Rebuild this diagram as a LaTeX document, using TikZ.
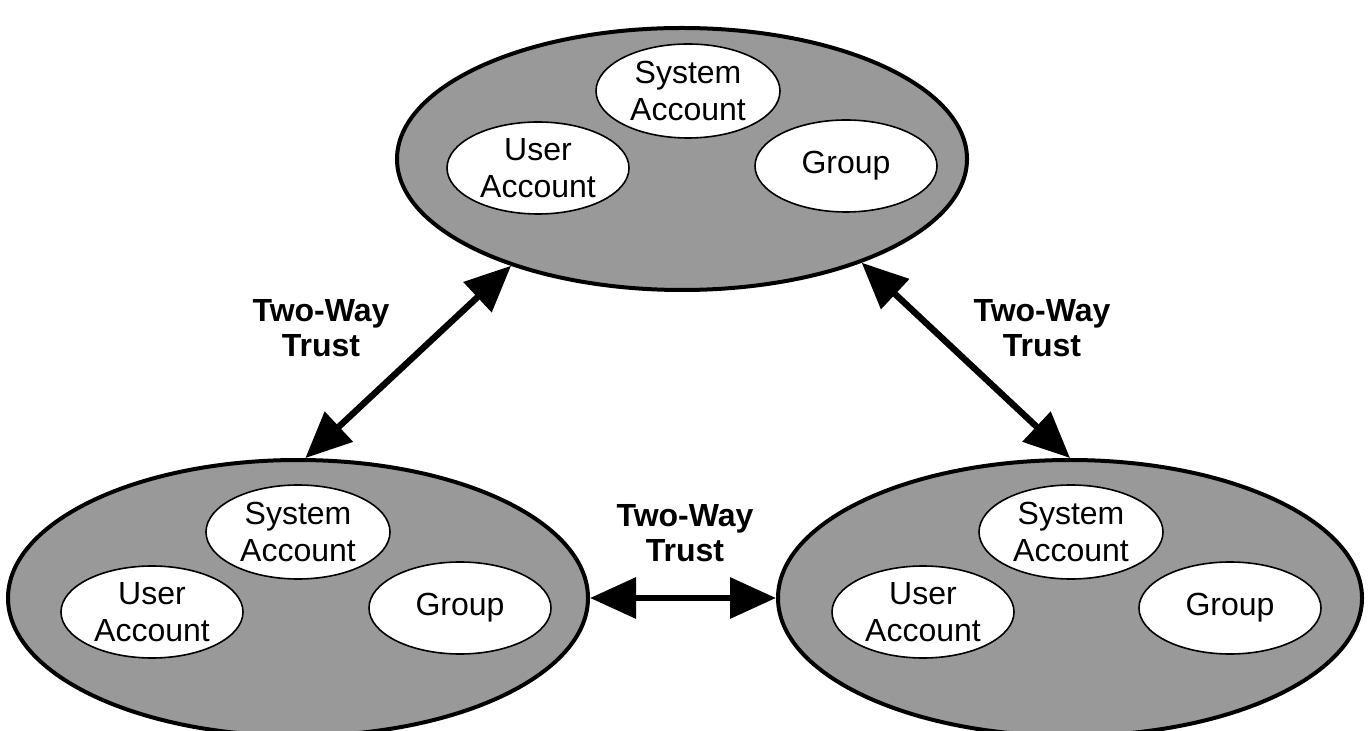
\documentclass[tikz,border=0pt]{standalone}
\usepackage{fontspec}
\setmainfont{Liberation Sans}
\usetikzlibrary{shapes.geometric,arrows.meta}
\definecolor{domaingray}{RGB}{153,153,153}
\begin{document}
\begin{tikzpicture}[x=0.5pt,y=-0.5pt,
  domainell/.style={ellipse,draw=black,line width=2pt,fill=domaingray,inner sep=0pt},
  memberell/.style={ellipse,draw=black,line width=0.8pt,fill=white,inner sep=0pt,
    minimum width=91pt,minimum height=46pt},
  membertext/.style={align=center,inner sep=0pt,font=\fontsize{16}{18.5}\selectfont},
  trustlabel/.style={align=center,inner sep=0pt,font=\fontsize{16}{17.5}\selectfont\bfseries},
  trustarrow/.style={line width=3.2pt,{Triangle[length=23pt,width=20pt]}-{Triangle[length=23pt,width=20pt]}}]
\fill[white] (0,0) rectangle (1369,731);
\useasboundingbox (0,0) rectangle (1369,731);
\begin{scope}
\clip (0,0) rectangle (1369,731);

% top domain
\node[domainell,minimum width=285pt,minimum height=131pt] (top) at (682,159) {};
\node[memberell,minimum width=92pt,minimum height=47pt] (top-sys) at (688,91) {};
\node[membertext] (top-sys-t) at (top-sys) {System\\Account};
\node[memberell] (top-usr) at (538,168) {};
\node[membertext] (top-usr-t) at (top-usr) {User\\Account};
\node[memberell] (top-grp) at (846,166) {};
\node[membertext] (top-grp-t) at (top-grp) {Group};

% bottom-left domain
\node[domainell,minimum width=290pt,minimum height=138pt] (bl) at (298,598) {};
\node[memberell,minimum width=92pt,minimum height=47pt] (bl-sys) at (298,532) {};
\node[membertext] (bl-sys-t) at (bl-sys) {System\\Account};
\node[memberell] (bl-usr) at (152,612) {};
\node[membertext] (bl-usr-t) at (bl-usr) {User\\Account};
\node[memberell] (bl-grp) at (460,608) {};
\node[membertext] (bl-grp-t) at (bl-grp) {Group};

% bottom-right domain
\node[domainell,minimum width=292pt,minimum height=138pt] (br) at (1070,598) {};
\node[memberell,minimum width=92pt,minimum height=47pt] (br-sys) at (1071,532) {};
\node[membertext] (br-sys-t) at (br-sys) {System\\Account};
\node[memberell] (br-usr) at (923,612) {};
\node[membertext] (br-usr-t) at (br-usr) {User\\Account};
\node[memberell] (br-grp) at (1230,608) {};
\node[membertext] (br-grp-t) at (br-grp) {Group};
\end{scope}

% trust relationships
\draw[trustarrow] (bl.87) -- (top.212);
\draw[trustarrow] (top.330) -- (br.90);
\draw[trustarrow] (bl.east) -- (br.west);

\node[trustlabel] (lbl-left) at (321,328) {Two-Way\\Trust};
\node[trustlabel] (lbl-right) at (1042,328) {Two-Way\\Trust};
\node[trustlabel] (lbl-mid) at (685,533) {Two-Way\\Trust};
\end{tikzpicture}
\end{document}
